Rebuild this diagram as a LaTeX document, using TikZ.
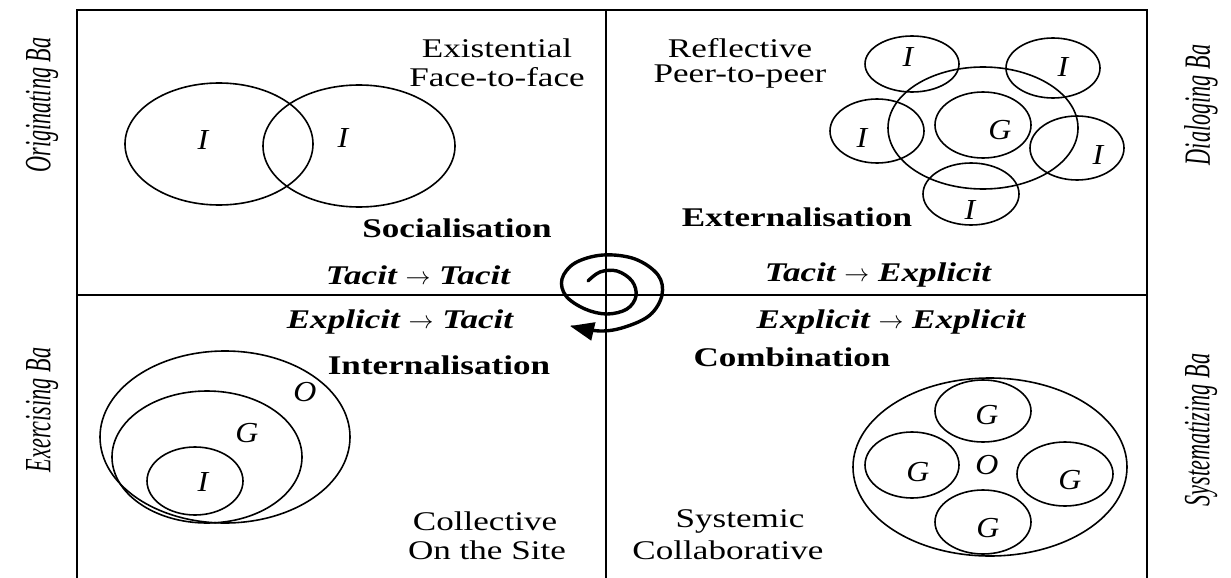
\documentclass[tikz,border=0pt]{standalone}
\usepackage{fontspec}
\setmainfont{Liberation Serif}[FakeStretch=1.3]
\newfontfamily\sidefont{Liberation Serif}[FakeStretch=0.6]
\newfontfamily\letterfont{Liberation Serif}[FakeStretch=1.1]
\newcommand{\myarr}{ $\mathbf{\rightarrow}$ }
\usetikzlibrary{arrows.meta}
\tikzset{
  ell/.style={line width=1.6pt},
  frame/.style={line width=2.6pt},
  axis/.style={line width=1.5pt},
  lbl/.style={font=\fontsize{27}{27}\selectfont, inner sep=0pt},
  blbl/.style={font=\fontsize{27}{27}\selectfont\bfseries, inner sep=0pt},
  bilbl/.style={font=\fontsize{27}{27}\selectfont\bfseries\itshape, inner sep=0pt},
  letter/.style={font=\letterfont\fontsize{29}{29}\selectfont\itshape, inner sep=0pt},
  side/.style={font=\sidefont\fontsize{37}{37}\selectfont\itshape, inner sep=0pt, rotate=90},
}
\begin{document}
\begin{tikzpicture}[x=1pt,y=-1pt]
\useasboundingbox (0,0) rectangle (1231,578);
\clip (0,0) rectangle (1231,578);
% frame
\draw[frame] (77,700) -- (77,10) -- (1147,10) -- (1147,700);
\draw[axis] (77,295) -- (1147,295);
\draw[line width=2pt] (606,10) -- (606,700);

% side labels
\node[side] (orig) at (42,105) {Originating Ba};
\node[side] (exer) at (42,410) {Exercising Ba};
\node[side] (dial) at (1201,105) {Dialoging Ba};
\node[side] (syst) at (1201,430) {Systematizing Ba};

% top-left quadrant
\draw[ell] (219,144) ellipse [x radius=94, y radius=61];
\draw[ell] (359,146) ellipse [x radius=96, y radius=61];
\node[letter] (i1) at (203,140) {I};
\node[letter] (i2) at (343,138) {I};
\node[lbl] (exist) at (497,48) {Existential};
\node[lbl] (f2f) at (497,77) {Face-to-face};
\node[blbl] (soc) at (457,228) {Socialisation};
\node[bilbl] (tt) at (418,275) {Tacit\myarr Tacit};

% top-right quadrant
\draw[ell] (983,128) ellipse [x radius=95, y radius=61];
\draw[ell] (983,125) ellipse [x radius=48, y radius=33];
\draw[ell] (912,64) ellipse [x radius=47, y radius=28];
\draw[ell] (1053,68) ellipse [x radius=47, y radius=30];
\draw[ell] (877,131) ellipse [x radius=47, y radius=32];
\draw[ell] (1077,148) ellipse [x radius=47, y radius=32];
\draw[ell] (971,194) ellipse [x radius=48, y radius=31];
\node[letter] (g1) at (1000,130) {G};
\node[letter] (i3) at (908,57) {I};
\node[letter] (i4) at (1063,67) {I};
\node[letter] (i5) at (862,138) {I};
\node[letter] (i6) at (1098,155) {I};
\node[letter] (i7) at (970,210) {I};
\node[lbl] (refl) at (740,48) {Reflective};
\node[lbl] (p2p) at (740,77) {Peer-to-peer};
\node[blbl] (ext) at (797,217) {Externalisation};
\node[bilbl] (te) at (878,275) {Tacit\myarr Explicit};

% bottom-left quadrant
\draw[ell] (225,437) ellipse [x radius=125, y radius=86];
\draw[ell] (207,457) ellipse [x radius=95, y radius=66];
\draw[ell] (195,481) ellipse [x radius=48, y radius=34];
\node[letter] (o1) at (305,392) {O};
\node[letter] (g2) at (247,433) {G};
\node[letter] (i8) at (203,482) {I};
\node[bilbl] (et) at (400,322) {Explicit\myarr Tacit};
\node[blbl] (int) at (439,365) {Internalisation};
\node[lbl] (coll) at (485,521) {Collective};
\node[lbl] (site) at (487,550) {On the Site};

% bottom-right quadrant
\draw[ell] (990,467) ellipse [x radius=137, y radius=89];
\draw[ell] (983,411) ellipse [x radius=48, y radius=31];
\draw[ell] (912,465) ellipse [x radius=47, y radius=33];
\draw[ell] (1065,474) ellipse [x radius=48, y radius=32];
\draw[ell] (983,522) ellipse [x radius=48, y radius=32];
\node[letter] (g3) at (987,415) {G};
\node[letter] (g4) at (918,472) {G};
\node[letter] (o2) at (987,465) {O};
\node[letter] (g5) at (1070,480) {G};
\node[letter] (g6) at (988,528) {G};
\node[bilbl] (ee) at (891,322) {Explicit\myarr Explicit};
\node[blbl] (comb) at (792,357) {Combination};
\node[lbl] (sysm) at (740,521) {Systemic};
\node[lbl] (collab) at (728,550) {Collaborative};

% spiral
\draw[line width=3.4pt, line cap=round, -{Triangle[length=24pt,width=18pt]}]
  plot[smooth, tension=0.6] coordinates {
   (588,281) (600,272) (617,271) (632,281) (636,296) (627,309) (607,314)
   (585,309) (566,296) (562,279) (575,263) (603,255) (635,259) (658,275)
   (662,295) (650,315) (625,327) (600,331) (570,326)};
\end{tikzpicture}
\end{document}
